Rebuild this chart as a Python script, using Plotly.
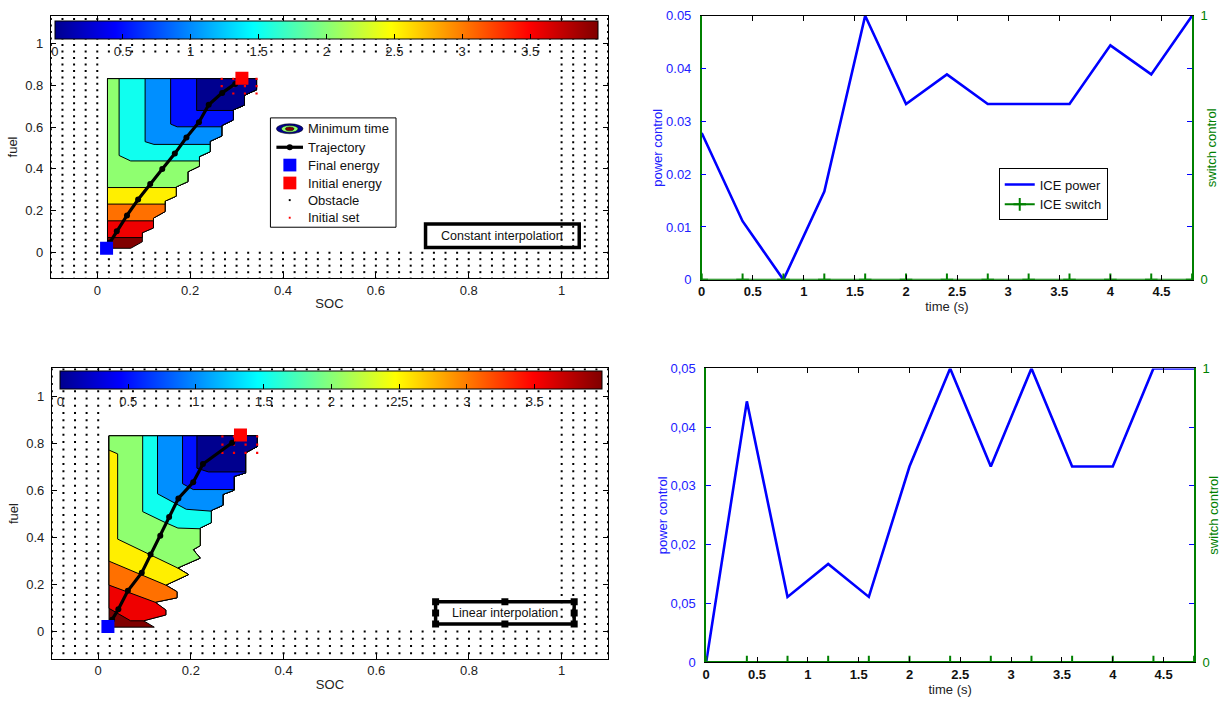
import plotly.graph_objects as go

W, H = 1224, 706
FONT = "Liberation Sans, Arial, sans-serif"

# ---------------- control plots data ----------------
TIME_S = [0.0, 0.4, 0.8, 1.2, 1.6, 2.0, 2.4, 2.8, 3.2, 3.6, 4.0, 4.4, 4.8]
POWER_CONST = [0.0278, 0.0111, 0.0, 0.0167, 0.05, 0.0333, 0.0389, 0.0333, 0.0333, 0.0333, 0.0444, 0.0389, 0.05]
SWITCH_CONST = [0, 0, 0, 0, 0, 0, 0, 0, 0, 0, 0, 0, 0]
POWER_LINEAR = [0.0, 0.0444, 0.0111, 0.0167, 0.0111, 0.0333, 0.05, 0.0333, 0.05, 0.0333, 0.0333, 0.05, 0.05]
SWITCH_LINEAR = [0, 0, 0, 0, 0, 0, 0, 0, 0, 0, 0, 0, 0]

TIME_TICKS = [0, 0.5, 1, 1.5, 2, 2.5, 3, 3.5, 4, 4.5]
TIME_TICKTEXT = ["0", "0.5", "1", "1.5", "2", "2.5", "3", "3.5", "4", "4.5"]
POWER_TICKS = [0, 0.01, 0.02, 0.03, 0.04, 0.05]
POWER_TICKTEXT_TOP = ["0", "0.01", "0.02", "0.03", "0.04", "0.05"]
POWER_TICKTEXT_BOTTOM = ["0", "0,05", "0,02", "0,03", "0,04", "0,05"]
SWITCH_TICKS = [0, 1]

# ---------------- minimum-time maps ----------------
SOC_TICKS = [0, 0.2, 0.4, 0.6, 0.8, 1]
SOC_TICKTEXT = ["0", "0.2", "0.4", "0.6", "0.8", "1"]
FUEL_TICKS = [0, 0.2, 0.4, 0.6, 0.8, 1]
FUEL_TICKTEXT = ["0", "0.2", "0.4", "0.6", "0.8", "1"]
CBAR_TICKS = [0, 0.5, 1, 1.5, 2, 2.5, 3, 3.5]
CBAR_TICKTEXT = ["0", "0.5", "1", "1.5", "2", "2.5", "3", "3.5"]
CBAR_MAX = 4.0
LEVELS = [0.5, 1.0, 1.5, 2.0, 2.5, 3.0, 3.5, 4.0]

# constant interpolation (top-left)
C_TOP, C_LEFT, C_BOTTOM = 0.831, 0.022, 0.021
C_EDGE_SOC = [0.343, 0.343, 0.317, 0.317, 0.293, 0.293, 0.268, 0.268, 0.243, 0.243, 0.22, 0.22,
              0.195, 0.195, 0.17, 0.17, 0.146, 0.146, 0.121, 0.121, 0.097, 0.097, 0.072]
C_EDGE_FUEL = [0.831, 0.778, 0.752, 0.705, 0.682, 0.634, 0.607, 0.557, 0.532, 0.482, 0.459, 0.413,
               0.386, 0.339, 0.314, 0.27, 0.246, 0.196, 0.165, 0.118, 0.095, 0.052, 0.021]
C_LEVEL_SOC = [
    [0.214, 0.214, 0.293],
    [0.158, 0.158, 0.172, 0.268],
    [0.103, 0.103, 0.122, 0.243],
    [0.047, 0.047, 0.072, 0.22],
    [0.022, 0.022, 0.17],
    [0.022, 0.022, 0.146],
    [0.022, 0.022, 0.121],
    [0.022, 0.022, 0.097],
]
C_LEVEL_FUEL = [
    [0.831, 0.679, 0.679],
    [0.831, 0.614, 0.601, 0.601],
    [0.831, 0.53, 0.517, 0.517],
    [0.831, 0.464, 0.438, 0.438],
    [0.831, 0.311, 0.311],
    [0.831, 0.232, 0.232],
    [0.831, 0.152, 0.152],
    [0.831, 0.072, 0.072],
]
C_TRAJ_SOC = [0.312, 0.297, 0.269, 0.24, 0.219, 0.192, 0.167, 0.14, 0.114, 0.088, 0.064, 0.042, 0.027, 0.021]
C_TRAJ_FUEL = [0.83, 0.805, 0.763, 0.706, 0.623, 0.55, 0.473, 0.4, 0.328, 0.254, 0.178, 0.102, 0.048, 0.022]
C_FINAL = (0.020, 0.021)
C_INITIAL = (0.3115, 0.833)

# linear interpolation (bottom-left)
L_TOP, L_LEFT, L_BOTTOM = 0.833, 0.0234, 0.018
L_EDGE_SOC = [0.343, 0.343, 0.318, 0.318, 0.293, 0.293, 0.269, 0.269, 0.244, 0.244, 0.22, 0.22,
              0.205, 0.22, 0.1715, 0.195, 0.146, 0.17, 0.17, 0.123, 0.146, 0.146, 0.098, 0.121]
L_EDGE_FUEL = [0.833, 0.787, 0.761, 0.675, 0.66, 0.601, 0.583, 0.537, 0.515, 0.463, 0.44, 0.365,
               0.348, 0.312, 0.27, 0.242, 0.197, 0.169, 0.143, 0.124, 0.091, 0.07, 0.045, 0.018]
L_LEVEL_SOC = [
    [0.213, 0.213, 0.238, 0.318],
    [0.182, 0.182, 0.205, 0.293],
    [0.128, 0.128, 0.19, 0.244],
    [0.096, 0.096, 0.142, 0.172, 0.22],
    [0.0234, 0.0234, 0.042, 0.042, 0.1715],
    [0.0234, 0.0234, 0.146],
    [0.0234, 0.0234, 0.123],
    [0.0234, 0.0234, 0.07, 0.098],
]
L_LEVEL_FUEL = [
    [0.833, 0.695, 0.679, 0.679],
    [0.833, 0.629, 0.604, 0.604],
    [0.833, 0.586, 0.52, 0.512],
    [0.833, 0.51, 0.466, 0.44, 0.437],
    [0.833, 0.772, 0.756, 0.393, 0.27],
    [0.833, 0.299, 0.197],
    [0.833, 0.197, 0.124],
    [0.833, 0.098, 0.045, 0.045],
]
L_TRAJ_SOC = [0.307, 0.289, 0.226, 0.205, 0.173, 0.153, 0.134, 0.113, 0.094, 0.064, 0.0435, 0.03, 0.021]
L_TRAJ_FUEL = [0.836, 0.803, 0.713, 0.635, 0.566, 0.487, 0.407, 0.327, 0.25, 0.173, 0.094, 0.05, 0.021]
L_FINAL = (0.021, 0.021)
L_INITIAL = (0.307, 0.836)

INIT_SET_SOC = [0.268, 0.293, 0.318, 0.343]
INIT_SET_FUEL = [0.76, 0.795, 0.83]

# obstacle grid (columns / rows of the state grid)
OBST_GRID_SOC = [-0.1, -0.075, -0.05, -0.025, 0.0, 0.025, 0.05, 0.075, 0.1, 0.125, 0.15, 0.175, 0.2,
                 0.225, 0.25, 0.275, 0.3, 0.325, 0.35, 0.375, 0.4, 0.425, 0.45, 0.475, 0.5, 0.525,
                 0.55, 0.575, 0.6, 0.625, 0.65, 0.675, 0.7, 0.725, 0.75, 0.775, 0.8, 0.825, 0.85,
                 0.875, 0.9, 0.925, 0.95, 0.975, 1.0, 1.025, 1.05, 1.075, 1.1]
OBST_GRID_FUEL = [-0.124, -0.093, -0.062, -0.031, 0.0, 0.031, 0.062, 0.093, 0.124, 0.155, 0.186,
                  0.217, 0.248, 0.279, 0.31, 0.341, 0.372, 0.403, 0.434, 0.465, 0.496, 0.527, 0.558,
                  0.589, 0.62, 0.651, 0.682, 0.713, 0.744, 0.775, 0.806, 0.837, 0.868, 0.899, 0.93,
                  0.961, 0.992, 1.023, 1.054, 1.085, 1.116]
FREE_SOC = (0.0, 1.0)      # obstacle outside this open interval
FREE_FUEL = (0.0, 0.96)


# ---------------- helpers ----------------
def jet64():
    cols = []
    for i in range(1, 65):
        if i <= 8:
            r, g, b = 0, 0, 0.5 + i * 0.0625
        elif i <= 24:
            r, g, b = 0, (i - 8) * 0.0625, 1
        elif i <= 40:
            r, g, b = (i - 24) * 0.0625, 1, 1 - (i - 24) * 0.0625
        elif i <= 56:
            r, g, b = 1, 1 - (i - 40) * 0.0625, 0
        else:
            r, g, b = 1 - (i - 56) * 0.0625, 0, 0
        cols.append("rgb(%d,%d,%d)" % (round(r * 255), round(g * 255), round(b * 255)))
    return cols


JET = jet64()
JET_SCALE = [[i / 63, c] for i, c in enumerate(JET)]


def level_color(v):
    return JET[min(int(v / CBAR_MAX * 64), 63)]


def sublevel_polygon(cx, cy, ex, ey):
    end_y = cy[-1]
    px, py = list(cx), list(cy)
    pts = [(x, y) for x, y in zip(ex, ey) if y >= end_y - 1e-9]
    for x, y in reversed(pts):
        px.append(x)
        py.append(y)
    px.append(cx[0])
    py.append(cy[0])
    return px, py


def obstacle_points():
    xs, ys = [], []
    for y in OBST_GRID_FUEL:
        for x in OBST_GRID_SOC:
            if x <= FREE_SOC[0] + 1e-9 or x >= FREE_SOC[1] - 1e-9 or y <= FREE_FUEL[0] + 1e-9 or y >= FREE_FUEL[1]:
                xs.append(x)
                ys.append(y)
    return xs, ys


fig = go.Figure()


def add_map(xa, ya, top, left, bottom, ex, ey, lev_x, lev_y, traj_x, traj_y, final, initial):
    dx, dy = sublevel_polygon([left, left], [top, bottom], ex, ey)
    fig.add_trace(go.Scatter(x=dx, y=dy, xaxis=xa, yaxis=ya, mode="lines", fill="toself",
                             fillcolor=level_color(CBAR_MAX), line=dict(color="black", width=1),
                             showlegend=False, hoverinfo="skip"))
    for k in range(len(LEVELS) - 1, -1, -1):
        px, py = sublevel_polygon(lev_x[k], lev_y[k], ex, ey)
        fig.add_trace(go.Scatter(x=px, y=py, xaxis=xa, yaxis=ya, mode="lines", fill="toself",
                                 fillcolor=level_color(LEVELS[k] - 0.5),
                                 line=dict(color="black", width=1),
                                 showlegend=False, hoverinfo="skip"))
    ox, oy = obstacle_points()
    fig.add_trace(go.Scatter(x=ox, y=oy, xaxis=xa, yaxis=ya, mode="markers",
                             marker=dict(color="black", size=2, symbol="square"),
                             showlegend=False, hoverinfo="skip"))
    ix = [x for y in INIT_SET_FUEL for x in INIT_SET_SOC]
    iy = [y for y in INIT_SET_FUEL for x in INIT_SET_SOC]
    fig.add_trace(go.Scatter(x=ix, y=iy, xaxis=xa, yaxis=ya, mode="markers",
                             marker=dict(color="red", size=2.2, symbol="square"),
                             showlegend=False, hoverinfo="skip"))
    fig.add_trace(go.Scatter(x=traj_x, y=traj_y, xaxis=xa, yaxis=ya, mode="lines+markers",
                             line=dict(color="black", width=3.2),
                             marker=dict(color="black", size=6),
                             showlegend=False, hoverinfo="skip"))
    fig.add_trace(go.Scatter(x=[final[0]], y=[final[1]], xaxis=xa, yaxis=ya, mode="markers",
                             marker=dict(color="#0000FF", size=13, symbol="square"),
                             showlegend=False, hoverinfo="skip"))
    fig.add_trace(go.Scatter(x=[initial[0]], y=[initial[1]], xaxis=xa, yaxis=ya, mode="markers",
                             marker=dict(color="#FF0000", size=13, symbol="square"),
                             showlegend=False, hoverinfo="skip"))


def add_colorbar(xa, ya, cx_px, len_px, top_py):
    fig.add_trace(go.Scatter(
        x=[None], y=[None], xaxis=xa, yaxis=ya, mode="markers", showlegend=False, hoverinfo="skip",
        marker=dict(color=[0], cmin=0, cmax=CBAR_MAX, colorscale=JET_SCALE, showscale=True,
                    colorbar=dict(orientation="h", x=cx_px / W, xanchor="center",
                                  y=1 - top_py / H, yanchor="top", len=len_px, lenmode="pixels",
                                  thickness=18, thicknessmode="pixels", xpad=0, ypad=0,
                                  outlinecolor="black", outlinewidth=1,
                                  tickvals=CBAR_TICKS, ticktext=CBAR_TICKTEXT,
                                  ticks="inside", ticklen=5, tickcolor="black",
                                  tickfont=dict(size=13, color="#222", family=FONT)))))


add_map("x", "y", C_TOP, C_LEFT, C_BOTTOM, C_EDGE_SOC, C_EDGE_FUEL, C_LEVEL_SOC, C_LEVEL_FUEL,
        C_TRAJ_SOC, C_TRAJ_FUEL, C_FINAL, C_INITIAL)
add_colorbar("x", "y", 323.5, 543, 14)
add_map("x3", "y3", L_TOP, L_LEFT, L_BOTTOM, L_EDGE_SOC, L_EDGE_FUEL, L_LEVEL_SOC, L_LEVEL_FUEL,
        L_TRAJ_SOC, L_TRAJ_FUEL, L_FINAL, L_INITIAL)
add_colorbar("x3", "y3", 328.5, 542, 372)

# ---------------- control plots ----------------
for xa, ya, yb, pw, sw, show in [("x2", "y2", "y5", POWER_CONST, SWITCH_CONST, True),
                                  ("x4", "y4", "y6", POWER_LINEAR, SWITCH_LINEAR, False)]:
    fig.add_trace(go.Scatter(x=TIME_S, y=pw, xaxis=xa, yaxis=ya, mode="lines", name="ICE power",
                             line=dict(color="#0000FF", width=2.6), showlegend=show))
    fig.add_trace(go.Scatter(x=TIME_S, y=sw, xaxis=xa, yaxis=yb, mode="lines+markers", name="ICE switch",
                             line=dict(color="#008000", width=2),
                             marker=dict(symbol="cross-thin", size=9, color="#008000",
                                         line=dict(color="#008000", width=2)),
                             showlegend=show))

# ---------------- layout ----------------
left_x = dict(range=[-0.1, 1.1], tickvals=SOC_TICKS, ticktext=SOC_TICKTEXT, ticks="inside", ticklen=5,
              tickcolor="black", showline=True, linecolor="black", linewidth=1, mirror="ticks",
              showgrid=False, zeroline=False, tickfont=dict(size=13, color="#222", family=FONT),
              title=dict(text="SOC", font=dict(size=13, color="#222", family=FONT), standoff=2))
left_y = dict(tickvals=FUEL_TICKS, ticktext=FUEL_TICKTEXT, ticks="inside", ticklen=5,
              tickcolor="black", showline=True, linecolor="black", linewidth=1, mirror="ticks",
              showgrid=False, zeroline=False, tickfont=dict(size=13, color="#222", family=FONT),
              ticklabelstandoff=4,
              title=dict(text="fuel", font=dict(size=13, color="#222", family=FONT), standoff=4))

right_x = dict(range=[0, 4.8], tickvals=TIME_TICKS, ticktext=TIME_TICKTEXT, ticks="inside", ticklen=5,
               tickcolor="black", showline=True, linecolor="black", linewidth=1, mirror="ticks",
               showgrid=False, zeroline=False,
               tickfont=dict(size=13, color="#111", family=FONT, weight="bold"),
               title=dict(text="time (s)", font=dict(size=13, color="#222", family=FONT), standoff=0))
right_y = dict(range=[0, 0.05], tickvals=POWER_TICKS, ticks="inside", ticklen=5, tickcolor="#0000FF",
               showline=True, linecolor="#008000", linewidth=1.5, mirror="ticks", showgrid=False,
               zeroline=False, tickfont=dict(size=13, color="#2020FF", family=FONT),
               ticklabelstandoff=6,
               title=dict(text="power control", font=dict(size=13, color="#2020FF", family=FONT), standoff=0))
switch_y = dict(range=[0, 1], tickvals=SWITCH_TICKS, ticktext=["0", "1"], ticks="inside", ticklen=5,
                tickcolor="#008000", showline=True, linecolor="#008000", linewidth=1.5, side="right",
                showgrid=False, zeroline=False, tickfont=dict(size=13, color="#008000", family=FONT),
                ticklabelstandoff=4,
                title=dict(text="switch control", font=dict(size=13, color="#008000", family=FONT), standoff=0))

fig.update_layout(
    width=W, height=H, margin=dict(l=0, r=0, t=0, b=0),
    paper_bgcolor="white", plot_bgcolor="white",
    font=dict(family=FONT, size=13, color="#222"),
    xaxis=dict(left_x, domain=[47 / W, 606 / W], anchor="y"),
    yaxis=dict(left_y, domain=[1 - 277 / H, 1 - 9 / H], range=[-0.1215, 1.131], anchor="x"),
    xaxis3=dict(left_x, domain=[48 / W, 606 / W], anchor="y3"),
    yaxis3=dict(left_y, domain=[1 - 666 / H, 1 - 369 / H], range=[-0.117, 1.121], anchor="x3"),
    xaxis2=dict(right_x, domain=[700 / W, 1192 / W], anchor="y2"),
    yaxis2=dict(right_y, domain=[1 - 278.7 / H, 1 - 9 / H], anchor="x2", ticktext=POWER_TICKTEXT_TOP),
    yaxis5=dict(switch_y, overlaying="y2", anchor="x2"),
    xaxis4=dict(right_x, domain=[704.5 / W, 1194 / W], anchor="y4"),
    yaxis4=dict(right_y, domain=[1 - 669.3 / H, 1 - 369.3 / H], anchor="x4", ticktext=POWER_TICKTEXT_BOTTOM),
    yaxis6=dict(switch_y, overlaying="y4", anchor="x4"),
    legend=dict(x=998 / W, y=1 - 165 / H, xanchor="left", yanchor="top", bgcolor="white",
                bordercolor="black", borderwidth=1, font=dict(size=13, color="#111", family=FONT),
                tracegroupgap=0),
)

# interpolation labels (data coordinates of the map axes)
C_BOX = (0.707, 1.038, 0.025, 0.137)
L_BOX = (0.728, 1.027, 0.031, 0.126)
fig.add_shape(type="rect", xref="x", yref="y", x0=C_BOX[0], x1=C_BOX[1], y0=C_BOX[2], y1=C_BOX[3],
              line=dict(color="black", width=3.5), fillcolor="rgba(0,0,0,0)")
fig.add_annotation(xref="x", yref="y", x=(C_BOX[0] + C_BOX[1]) / 2, y=(C_BOX[2] + C_BOX[3]) / 2,
                   text="Constant interpolation", showarrow=False,
                   font=dict(size=12.5, color="#111", family=FONT))
fig.add_shape(type="rect", xref="x3", yref="y3", x0=L_BOX[0], x1=L_BOX[1], y0=L_BOX[2], y1=L_BOX[3],
              line=dict(color="black", width=3.5), fillcolor="rgba(0,0,0,0)")
fig.add_annotation(xref="x3", yref="y3", x=(L_BOX[0] + L_BOX[1]) / 2, y=(L_BOX[2] + L_BOX[3]) / 2,
                   text="Linear interpolation", showarrow=False,
                   font=dict(size=12.5, color="#111", family=FONT))
hx = [L_BOX[0], (L_BOX[0] + L_BOX[1]) / 2, L_BOX[1]]
hy = [L_BOX[2], (L_BOX[2] + L_BOX[3]) / 2, L_BOX[3]]
handles = [(a, b) for a in hx for b in hy if not (a == hx[1] and b == hy[1])]
fig.add_trace(go.Scatter(x=[h[0] for h in handles], y=[h[1] for h in handles], xaxis="x3", yaxis="y3",
                         mode="markers", marker=dict(symbol="square", size=7, color="black"),
                         showlegend=False, hoverinfo="skip"))


# manual legend for the top-left map (pixel layout -> paper)
def X(px):
    return px / W


def Y(py):
    return 1 - py / H


fig.add_shape(type="rect", xref="paper", yref="paper", x0=X(267.3), x1=X(393.3), y0=Y(225), y1=Y(113.3),
              line=dict(color="black", width=1), fillcolor="white")
fig.add_shape(type="circle", xref="paper", yref="paper", x0=X(273.3), x1=X(300), y0=Y(129.5), y1=Y(119.3),
              line=dict(color="black", width=0.5), fillcolor=level_color(0))
fig.add_shape(type="circle", xref="paper", yref="paper", x0=X(278.3), x1=X(295), y0=Y(128), y1=Y(121),
              line=dict(color="black", width=0.5), fillcolor=level_color(2))
fig.add_shape(type="circle", xref="paper", yref="paper", x0=X(282.3), x1=X(291), y0=Y(126.5), y1=Y(122.5),
              line=dict(color="black", width=0.5), fillcolor=level_color(4))
fig.add_shape(type="line", xref="paper", yref="paper", x0=X(273.3), x1=X(300), y0=Y(143.3), y1=Y(143.3),
              line=dict(color="black", width=3.2))
fig.add_shape(type="circle", xref="paper", yref="paper", x0=X(283.7), x1=X(289.7), y0=Y(146.3), y1=Y(140.3),
              line=dict(color="black", width=0), fillcolor="black")
fig.add_shape(type="rect", xref="paper", yref="paper", x0=X(280.3), x1=X(293.3), y0=Y(168), y1=Y(155),
              line=dict(width=0), fillcolor="#0000FF")
fig.add_shape(type="rect", xref="paper", yref="paper", x0=X(280.3), x1=X(293.3), y0=Y(186.3), y1=Y(173.3),
              line=dict(width=0), fillcolor="#FF0000")
fig.add_shape(type="rect", xref="paper", yref="paper", x0=X(285.7), x1=X(287.6), y0=Y(198.3), y1=Y(196.3),
              line=dict(width=0), fillcolor="black")
fig.add_shape(type="rect", xref="paper", yref="paper", x0=X(285.7), x1=X(287.6), y0=Y(216.3), y1=Y(214.3),
              line=dict(width=0), fillcolor="red")
for label, py in [("Minimum time", 124.3), ("Trajectory", 143.3), ("Final energy", 161.7),
                  ("Initial energy", 180), ("Obstacle", 197.3), ("Initial set", 215.3)]:
    fig.add_annotation(xref="paper", yref="paper", x=X(302.5), y=Y(py), xanchor="left", yanchor="middle",
                       text=label, showarrow=False, font=dict(size=13, color="#111", family=FONT))

fig.write_html("out.html", config={"displayModeBar": False},
               post_script="document.body.style.margin='0';document.body.style.overflow='hidden';")
